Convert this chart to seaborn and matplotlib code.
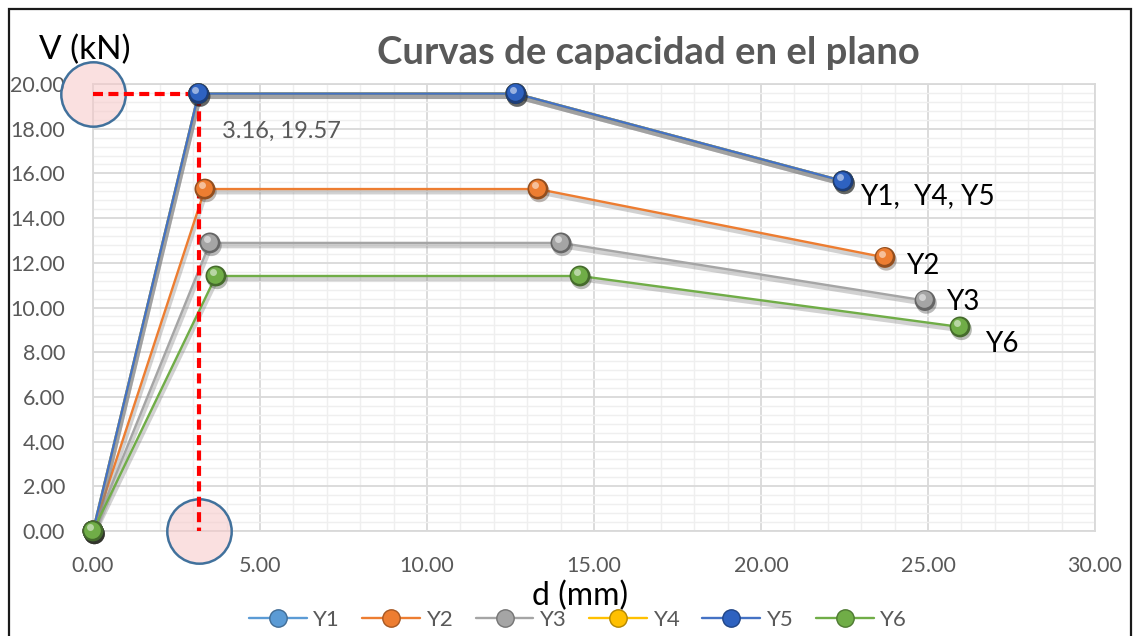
import numpy as np
import pandas as pd
import matplotlib
matplotlib.use("Agg")
import matplotlib.pyplot as plt
import matplotlib.transforms as mtransforms
from matplotlib import patheffects as pe
from matplotlib.lines import Line2D
from matplotlib.patches import Rectangle
import seaborn as sns

# Capacity curves (shear V vs. displacement d) for each wall axis
series = ["Y1", "Y2", "Y3", "Y4", "Y5", "Y6"]
d_y1 = [0.00, 3.16, 12.66, 22.46]
v_y1 = [0.00, 19.57, 19.57, 15.66]
d_y2 = [0.00, 3.35, 13.32, 23.71]
v_y2 = [0.00, 15.30, 15.30, 12.24]
d_y3 = [0.00, 3.50, 14.01, 24.91]
v_y3 = [0.00, 12.89, 12.89, 10.31]
d_y4 = [0.00, 3.16, 12.66, 22.46]
v_y4 = [0.00, 19.57, 19.57, 15.66]
d_y5 = [0.00, 3.16, 12.66, 22.46]
v_y5 = [0.00, 19.57, 19.57, 15.66]
d_y6 = [0.00, 3.68, 14.58, 25.96]
v_y6 = [0.00, 11.41, 11.41, 9.13]

colors = ["#5B9BD5", "#ED7D31", "#A5A5A5", "#FFC000", "#4472C4", "#70AD47"]
end_labels = {"Y5": "Y1,  Y4, Y5", "Y2": "Y2", "Y3": "Y3", "Y6": "Y6"}
end_offsets = {"Y5": (12, -11), "Y2": (15, -6), "Y3": (15, -1), "Y6": (18, -12)}

x_ticks = [0, 5, 10, 15, 20, 25, 30]
y_ticks = [0, 2, 4, 6, 8, 10, 12, 14, 16, 18, 20]

d_all = [d_y1, d_y2, d_y3, d_y4, d_y5, d_y6]
v_all = [v_y1, v_y2, v_y3, v_y4, v_y5, v_y6]
df = pd.concat(
    [pd.DataFrame({"d": d, "V": v, "serie": s, "orden": range(len(d))})
     for s, d, v in zip(series, d_all, v_all)],
    ignore_index=True,
)

sns.set_theme(style="white")
plt.rcParams["font.family"] = ["Lato", "DejaVu Sans"]

TXT_GRAY = "#595959"

fig = plt.figure(figsize=(11.33, 6.36), dpi=100)
ax = fig.add_axes([93 / 1133, 1 - 531 / 636, (1095 - 93) / 1133, (531 - 84) / 636])

sns.lineplot(
    data=df, x="d", y="V", hue="serie", palette=colors, hue_order=series,
    sort=False, estimator=None, units="serie", legend=False, ax=ax,
    linewidth=1.7, zorder=3,
)

shadow = [pe.SimpleLineShadow(offset=(0.8, -2.2), shadow_color="#7F7F7F",
                              alpha=0.35, linewidth=3.4),
          pe.Normal()]
for ln in ax.lines:
    ln.set_path_effects(shadow)
    ln.set_clip_on(False)


def darken(c, f=0.7):
    r, g, b = matplotlib.colors.to_rgb(c)
    return (r * f, g * f, b * f)


def lighten(c, f=0.55):
    r, g, b = matplotlib.colors.to_rgb(c)
    return (r + (1 - r) * f, g + (1 - g) * f, b + (1 - b) * f)


# Spherical markers: dark base, body colour shifted up-left, small highlight
hl1 = ax.transData + mtransforms.ScaledTranslation(-0.6 / 72, 0.8 / 72, fig.dpi_scale_trans)
hl2 = ax.transData + mtransforms.ScaledTranslation(-2.4 / 72, 2.8 / 72, fig.dpi_scale_trans)
marker_color = {"Y5": "#2E62C0"}
for i, (s, d, v) in enumerate(zip(series, d_all, v_all)):
    c = marker_color.get(s, colors[i])
    z = 4 + i * 0.1
    ax.plot(d, v, ls="none", marker="o", ms=15, mfc=darken(c, 0.62), mec="none",
            clip_on=False, zorder=z,
            path_effects=[pe.SimplePatchShadow(offset=(1, -2), alpha=0.3), pe.Normal()])
    ax.plot(d, v, ls="none", marker="o", ms=12, mfc=c, mec="none",
            clip_on=False, zorder=z + 0.01, transform=hl1)
    ax.plot(d, v, ls="none", marker="o", ms=5, mfc=lighten(c, 0.6), mec="none",
            alpha=0.85, clip_on=False, zorder=z + 0.02, transform=hl2)

# Yield point guides
yd, yv = d_y5[1], v_y5[1]
ax.plot([0, yd, yd], [yv, yv, 0], color="#FF0000", lw=3, ls=(0, (2.4, 1.3)),
        zorder=3.5, clip_on=False)
ax.scatter([0, yd], [yv, 0], s=2150, facecolor=(0.97, 0.78, 0.78, 0.55),
           edgecolor="#41719C", linewidth=1.8, zorder=3.2, clip_on=False)
ax.annotate(f"{yd:.2f}, {yv:.2f}", xy=(yd, yv), xytext=(17, -27),
            textcoords="offset points", ha="left", va="center",
            fontsize=17, color=TXT_GRAY)

# Series names at the end of each curve
for s, txt in end_labels.items():
    i = series.index(s)
    ax.annotate(txt, xy=(d_all[i][-1], v_all[i][-1]), xytext=end_offsets[s],
                textcoords="offset points", ha="left", va="center",
                fontsize=20, color="black")

ax.set_xlim(0, 30)
ax.set_ylim(0, 20)
ax.set_xticks(x_ticks)
ax.set_yticks(y_ticks)
ax.set_xticks(np.arange(0, 31, 1), minor=True)
ax.set_yticks(np.arange(0, 20.01, 0.4), minor=True)
ax.set_xticklabels([f"{t:.2f}" for t in x_ticks])
ax.set_yticklabels([f"{t:.2f}" for t in y_ticks])
ax.grid(which="major", color="#D9D9D9", lw=1.3, zorder=0)
ax.grid(which="minor", color="#EFEFEF", lw=1.0, zorder=0)
ax.set_axisbelow(True)
ax.tick_params(which="both", length=0)
ax.tick_params(axis="y", pad=20, labelsize=15.5, labelcolor=TXT_GRAY)
ax.tick_params(axis="x", pad=18, labelsize=15.5, labelcolor=TXT_GRAY)
for sp in ax.spines.values():
    sp.set_color("#D9D9D9")
    sp.set_linewidth(1.3)
ax.set_xlabel("")
ax.set_ylabel("")

fig.text(648 / 1133, 1 - 53 / 636, "Curvas de capacidad en el plano",
         ha="center", va="center", fontsize=27.5, fontweight="bold", color=TXT_GRAY)
fig.text(85 / 1133, 1 - 50 / 636, "V (kN)", ha="center", va="center",
         fontsize=24, color="black")
fig.text(580 / 1133, 1 - 596 / 636, "d (mm)", ha="center", va="center",
         fontsize=23, color="black")

handles = [Line2D([0], [0], color=c, lw=1.7, marker="o", ms=12.5,
                  mfc=marker_color.get(s, c), mec=darken(marker_color.get(s, c), 0.7),
                  mew=1.0)
           for s, c in zip(series, colors)]
fig.legend(handles, series, loc="center", bbox_to_anchor=(578 / 1133, 1 - 620 / 636),
           ncol=6, frameon=False, fontsize=16, labelcolor=TXT_GRAY,
           handlelength=2.6, handletextpad=0.3, columnspacing=1.0,
           borderpad=0, borderaxespad=0)

fig.add_artist(Rectangle((9 / 1133, -0.05), (1131 - 9) / 1133, 1.05 - 9 / 636,
                         transform=fig.transFigure, fill=False,
                         edgecolor="#1A1A1A", lw=1.6))

fig.savefig("out.png", dpi=100)
